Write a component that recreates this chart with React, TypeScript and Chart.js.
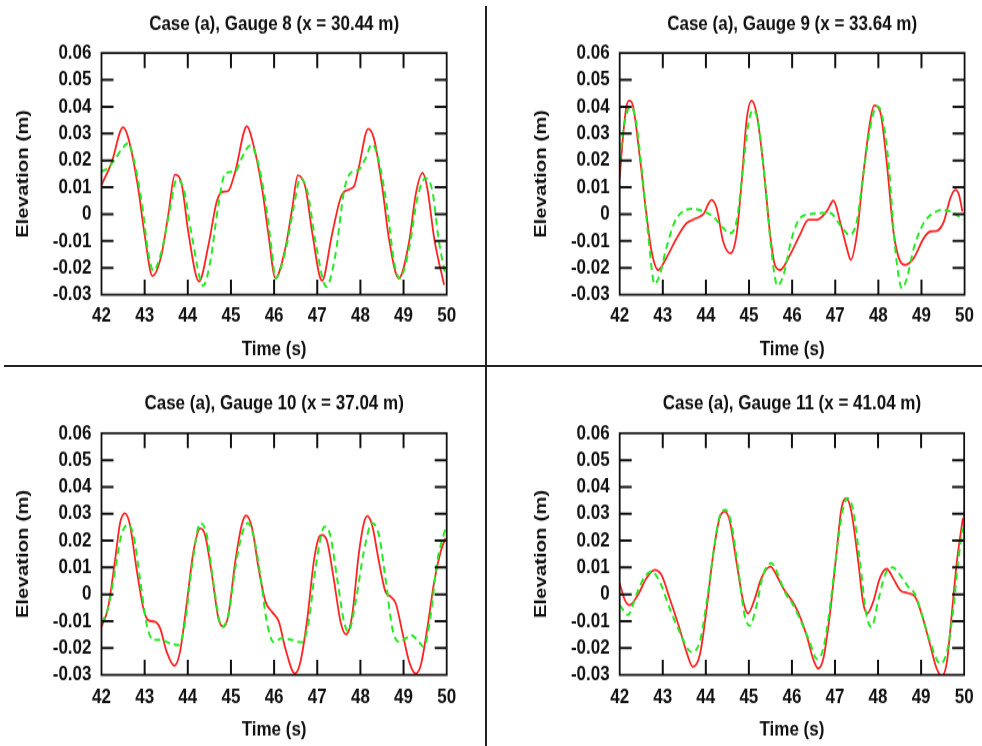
import React, { useEffect, useRef } from "react";
import { Chart, registerables } from "chart.js";
Chart.register(...registerables);

// ---- axes ----
const timeRange = [42, 50];
const elevationRange = [-0.03, 0.06];

// ---- Gauge 8 ----
const g8RedTime = [42, 42.23, 42.5, 42.62, 42.85, 43.0, 43.18, 43.39, 43.55, 43.7, 43.86, 44.01, 44.26, 44.48, 44.67, 44.79, 44.94, 45.1, 45.37, 45.52, 45.72, 45.87, 46.03, 46.26, 46.42, 46.55, 46.73, 46.88, 47.11, 47.34, 47.54, 47.65, 47.85, 47.96, 48.18, 48.31, 48.51, 48.66, 48.89, 49.13, 49.28, 49.44, 49.55, 49.71, 49.94];
const g8RedElev = [0.0109, 0.019, 0.0323, 0.0284, 0.0097, -0.0077, -0.023, -0.0152, 0, 0.0147, 0.011, -0.0065, -0.0251, -0.0114, 0.0047, 0.0082, 0.0087, 0.0159, 0.0327, 0.0259, 0.0097, -0.0077, -0.0239, -0.0127, 0.0022, 0.0144, 0.0097, -0.0065, -0.0248, -0.0077, 0.006, 0.0087, 0.0103, 0.0172, 0.0318, 0.0284, 0.0097, -0.009, -0.0239, -0.0102, 0.0072, 0.0153, 0.0097, -0.009, -0.0264];
const g8GreenTime = [42, 42.15, 42.31, 42.46, 42.62, 42.74, 42.93, 43.08, 43.2, 43.39, 43.59, 43.74, 43.9, 44.09, 44.36, 44.52, 44.71, 44.87, 45.1, 45.25, 45.45, 45.6, 45.8, 45.95, 46.03, 46.26, 46.45, 46.61, 46.77, 46.96, 47.21, 47.42, 47.62, 47.77, 47.96, 48.12, 48.27, 48.43, 48.62, 48.78, 48.91, 49.13, 49.32, 49.51, 49.67, 49.82, 49.97];
const g8GreenElev = [0.0159, 0.0172, 0.0203, 0.024, 0.0265, 0.0209, 0.0047, -0.0139, -0.0211, -0.0139, 0.0022, 0.0128, 0.0097, -0.0077, -0.0266, -0.0177, 0.0035, 0.0153, 0.0159, 0.0209, 0.0256, 0.0209, 0.0047, -0.0139, -0.0239, -0.0139, 0.0022, 0.0134, 0.0085, -0.0102, -0.027, -0.0152, 0.0085, 0.0153, 0.0165, 0.0209, 0.0261, 0.0197, 0.0022, -0.0177, -0.0239, -0.0127, 0.006, 0.0134, 0.0085, -0.0102, -0.0226];

// ---- Gauge 9 ----
const g9RedTime = [42, 42.08, 42.15, 42.22, 42.31, 42.46, 42.62, 42.74, 42.89, 43.08, 43.32, 43.55, 43.78, 43.94, 44.13, 44.25, 44.4, 44.57, 44.71, 44.83, 44.94, 45.06, 45.18, 45.33, 45.49, 45.6, 45.72, 45.95, 46.18, 46.38, 46.57, 46.8, 46.96, 47.11, 47.27, 47.36, 47.5, 47.65, 47.81, 47.9, 48.04, 48.2, 48.35, 48.51, 48.62, 48.82, 49.05, 49.2, 49.36, 49.52, 49.67, 49.79, 49.87, 49.95];
const g9RedElev = [0.0134, 0.0296, 0.0396, 0.0423, 0.0402, 0.0221, 0, -0.0139, -0.0208, -0.0164, -0.009, -0.0034, -0.0015, 0, 0.0053, 0.0022, -0.0102, -0.0146, -0.0077, 0.0122, 0.0346, 0.0423, 0.0371, 0.0184, -0.0077, -0.0189, -0.0208, -0.0152, -0.0077, -0.0021, -0.0021, 0.001, 0.005, -0.0027, -0.0127, -0.017, -0.0077, 0.0147, 0.0346, 0.0405, 0.0383, 0.0184, -0.0065, -0.0177, -0.0189, -0.0164, -0.009, -0.0065, -0.0062, -0.0027, 0.006, 0.0091, 0.0072, 0.001];
const g9GreenTime = [42, 42.08, 42.23, 42.35, 42.5, 42.66, 42.81, 42.93, 43.08, 43.28, 43.47, 43.7, 43.94, 44.17, 44.4, 44.56, 44.71, 44.87, 44.98, 45.1, 45.22, 45.37, 45.53, 45.66, 45.8, 45.99, 46.18, 46.42, 46.65, 46.88, 47.11, 47.33, 47.5, 47.65, 47.81, 47.96, 48.08, 48.24, 48.39, 48.55, 48.66, 48.82, 49.05, 49.28, 49.52, 49.75, 49.97];
const g9GreenElev = [0.0197, 0.0308, 0.0398, 0.0371, 0.0184, -0.0077, -0.026, -0.0226, -0.0127, -0.0027, 0.001, 0.002, 0.001, -0.0009, -0.0052, -0.0071, -0.0027, 0.0184, 0.0333, 0.0389, 0.0333, 0.0122, -0.0152, -0.0266, -0.0226, -0.009, -0.0015, 0, 0.0004, 0.0004, -0.004, -0.0077, -0.0027, 0.0147, 0.0321, 0.0402, 0.0371, 0.0184, -0.0127, -0.0276, -0.0239, -0.0127, -0.0034, 0.0004, 0.0016, 0.0004, -0.0021];

// ---- Gauge 10 ----
const g10RedTime = [42, 42.15, 42.31, 42.43, 42.54, 42.66, 42.81, 42.97, 43.08, 43.24, 43.36, 43.51, 43.69, 43.82, 43.98, 44.13, 44.29, 44.4, 44.56, 44.71, 44.83, 44.94, 45.1, 45.25, 45.35, 45.49, 45.64, 45.8, 45.95, 46.11, 46.26, 46.48, 46.61, 46.77, 46.92, 47.03, 47.11, 47.23, 47.38, 47.54, 47.67, 47.81, 47.96, 48.08, 48.16, 48.27, 48.43, 48.58, 48.7, 48.82, 48.97, 49.13, 49.28, 49.4, 49.55, 49.71, 49.86, 49.97];
const g10RedElev = [-0.0121, -0.0052, 0.0122, 0.0265, 0.0302, 0.0259, 0.0097, -0.0052, -0.0096, -0.0102, -0.0127, -0.0214, -0.0266, -0.0214, -0.0027, 0.0159, 0.0246, 0.0221, 0.0072, -0.009, -0.0121, -0.0077, 0.0122, 0.0259, 0.0294, 0.0246, 0.0097, -0.0027, -0.0065, -0.0102, -0.0201, -0.0295, -0.0251, -0.009, 0.0122, 0.0209, 0.0221, 0.0197, 0.006, -0.0102, -0.0149, -0.0077, 0.0147, 0.0265, 0.0292, 0.0259, 0.0122, 0.001, -0.0009, -0.0034, -0.0139, -0.0251, -0.0295, -0.0264, -0.0127, 0.0047, 0.0159, 0.0209];
const g10GreenTime = [42, 42.15, 42.31, 42.46, 42.62, 42.74, 42.89, 43.05, 43.2, 43.39, 43.59, 43.78, 43.94, 44.09, 44.29, 44.44, 44.59, 44.79, 44.94, 45.1, 45.25, 45.39, 45.52, 45.68, 45.83, 45.99, 46.18, 46.42, 46.65, 46.8, 46.96, 47.17, 47.3, 47.46, 47.62, 47.72, 47.89, 48.08, 48.27, 48.43, 48.58, 48.74, 48.89, 49.05, 49.17, 49.32, 49.47, 49.63, 49.78, 49.97];
const g10GreenElev = [-0.0108, -0.0052, 0.0085, 0.0221, 0.0259, 0.0221, 0.006, -0.0114, -0.017, -0.017, -0.0183, -0.0189, -0.0102, 0.0097, 0.0265, 0.0221, 0.0047, -0.0121, -0.0077, 0.0097, 0.0221, 0.0265, 0.0221, 0.0072, -0.0102, -0.0177, -0.0164, -0.017, -0.0179, -0.0102, 0.0097, 0.0252, 0.0221, 0.006, -0.0102, -0.0139, -0.0027, 0.0159, 0.0265, 0.0221, 0.006, -0.0127, -0.0177, -0.0164, -0.0152, -0.017, -0.0195, -0.0077, 0.0122, 0.0246];

// ---- Gauge 11 ----
const g11RedTime = [42, 42.12, 42.23, 42.43, 42.62, 42.81, 42.97, 43.16, 43.39, 43.55, 43.7, 43.86, 44.01, 44.17, 44.32, 44.44, 44.56, 44.71, 44.87, 44.98, 45.14, 45.29, 45.5, 45.64, 45.8, 45.99, 46.14, 46.34, 46.49, 46.61, 46.73, 46.88, 47.03, 47.15, 47.26, 47.38, 47.54, 47.65, 47.75, 47.89, 48.04, 48.2, 48.35, 48.51, 48.7, 48.86, 49.02, 49.21, 49.36, 49.48, 49.6, 49.71, 49.83, 49.97];
const g11RedElev = [0.0041, -0.0021, -0.004, 0, 0.006, 0.0091, 0.0072, -0.0015, -0.0127, -0.0214, -0.027, -0.0226, -0.0065, 0.0147, 0.0284, 0.0308, 0.0271, 0.0122, -0.0027, -0.0071, -0.0015, 0.006, 0.0103, 0.0072, 0.0022, -0.0021, -0.0065, -0.0152, -0.0239, -0.0276, -0.0239, -0.0077, 0.0147, 0.0321, 0.0358, 0.0308, 0.0122, -0.0027, -0.0071, -0.0027, 0.006, 0.0095, 0.006, 0.0016, 0.0004, -0.0009, -0.0077, -0.0189, -0.0276, -0.0305, -0.0251, -0.0077, 0.0122, 0.0284];
const g11GreenTime = [42, 42.19, 42.39, 42.58, 42.74, 42.93, 43.16, 43.39, 43.66, 43.86, 44.01, 44.17, 44.32, 44.46, 44.59, 44.75, 44.9, 45.02, 45.18, 45.33, 45.52, 45.68, 45.83, 46.03, 46.18, 46.38, 46.59, 46.73, 46.88, 47.03, 47.19, 47.29, 47.42, 47.58, 47.73, 47.85, 48.0, 48.16, 48.34, 48.51, 48.7, 48.86, 49.02, 49.21, 49.44, 49.6, 49.75, 49.86, 49.97];
const g11GreenElev = [-0.004, -0.0077, 0, 0.0066, 0.0085, 0.0047, -0.0052, -0.0139, -0.0214, -0.0177, -0.004, 0.0147, 0.029, 0.0315, 0.0265, 0.0097, -0.0077, -0.0117, -0.004, 0.0072, 0.0116, 0.0072, 0.001, -0.004, -0.009, -0.0164, -0.0241, -0.0201, -0.0052, 0.0147, 0.0321, 0.0358, 0.0315, 0.0122, -0.0077, -0.0121, -0.0027, 0.0072, 0.01, 0.0072, 0.0029, 0, -0.0077, -0.0177, -0.0257, -0.0214, -0.0052, 0.0122, 0.0246];

const titles = [
  "Case (a), Gauge 8 (x = 30.44 m)",
  "Case (a), Gauge 9 (x = 33.64 m)",
  "Case (a), Gauge 10 (x = 37.04 m)",
  "Case (a), Gauge 11 (x = 41.04 m)",
];
const xAxisTitle = "Time (s)";
const yAxisTitle = "Elevation (m)";

const FONT = "'Liberation Sans', Arial, Helvetica, sans-serif";
const INK = "#111111";
// the figure is drawn at its natural size and stretched vertically, as in the reference image
const STRETCH = 1.2;
const FS = 17;
const LH = FS * 1.2;

// layout in final (on-screen) pixels
type Box = {
  left: number; top: number; width: number; height: number;
  plotLeft: number; plotRight: number; plotTop: number; plotBottom: number;
  titleY: number; xLabelY: number; xTitleY: number; yTitleX: number;
};
const boxes: Box[] = [
  { left: 0, top: 0, width: 487, height: 366, plotLeft: 101.5, plotRight: 446.7, plotTop: 53, plotBottom: 294.7, titleY: 24, xLabelY: 316.5, xTitleY: 350, yTitleX: 23.3 },
  { left: 487, top: 0, width: 495, height: 366, plotLeft: 132.7, plotRight: 477.7, plotTop: 53, plotBottom: 294.7, titleY: 24, xLabelY: 316.5, xTitleY: 350, yTitleX: 54.7 },
  { left: 0, top: 366, width: 487, height: 380, plotLeft: 101.5, plotRight: 446.7, plotTop: 67, plotBottom: 308.7, titleY: 37.3, xLabelY: 331, xTitleY: 364, yTitleX: 23.3 },
  { left: 487, top: 366, width: 495, height: 380, plotLeft: 132.7, plotRight: 477.7, plotTop: 67, plotBottom: 308.7, titleY: 37.3, xLabelY: 331, xTitleY: 364, yTitleX: 54.7 },
];

const seriesSets = [
  [g8RedTime, g8RedElev, g8GreenTime, g8GreenElev],
  [g9RedTime, g9RedElev, g9GreenTime, g9GreenElev],
  [g10RedTime, g10RedElev, g10GreenTime, g10GreenElev],
  [g11RedTime, g11RedElev, g11GreenTime, g11GreenElev],
];

const toPoints = (t: number[], v: number[]) => t.map((x, i) => ({ x, y: v[i] }));

const framePlugin = {
  id: "gnuFrame",
  afterDatasetsDraw(chart: any) {
    const { ctx, chartArea: a, scales } = chart;
    ctx.save();
    ctx.strokeStyle = INK;
    ctx.lineWidth = 2;
    ctx.beginPath();
    scales.x.ticks.forEach((t: any) => {
      if (t.value <= timeRange[0] || t.value >= timeRange[1]) return;
      const px = scales.x.getPixelForValue(t.value);
      ctx.moveTo(px, a.bottom); ctx.lineTo(px, a.bottom - 12.5);
      ctx.moveTo(px, a.top); ctx.lineTo(px, a.top + 12.5);
    });
    scales.y.ticks.forEach((t: any) => {
      if (t.value <= elevationRange[0] + 1e-9 || t.value >= elevationRange[1] - 1e-9) return;
      const py = scales.y.getPixelForValue(t.value);
      ctx.moveTo(a.left, py); ctx.lineTo(a.left + 12, py);
      ctx.moveTo(a.right, py); ctx.lineTo(a.right - 12, py);
    });
    ctx.stroke();
    ctx.lineWidth = 1.8;
    ctx.strokeRect(a.left, a.top, a.right - a.left, a.bottom - a.top);
    ctx.restore();
  },
};

function Panel({ index }: { index: number }) {
  const ref = useRef<HTMLCanvasElement | null>(null);
  const B = boxes[index];
  const H = B.height / STRETCH;
  const plotTop = B.plotTop / STRETCH;
  const plotBottom = B.plotBottom / STRETCH;
  useEffect(() => {
    const [rt, rv, gt, gv] = seriesSets[index];
    const titleTop = B.titleY / STRETCH - LH / 2;
    const titleBottom = plotTop - titleTop - LH;
    const xAxisHeight = H - plotBottom;
    const xTickPad = B.xLabelY / STRETCH - plotBottom - LH / 2;
    const xTitlePad = H - B.xTitleY / STRETCH - LH / 2;
    const chart = new Chart(ref.current as HTMLCanvasElement, {
      type: "line",
      data: {
        datasets: [
          {
            data: toPoints(gt, gv),
            borderColor: "rgb(35,235,35)",
            borderWidth: 2,
            borderDash: [6, 4],
            pointRadius: 0,
            cubicInterpolationMode: "monotone",
            fill: false,
          },
          {
            data: toPoints(rt, rv),
            borderColor: "rgb(255,35,35)",
            borderWidth: 1.8,
            pointRadius: 0,
            cubicInterpolationMode: "monotone",
            fill: false,
          },
        ],
      },
      options: {
        animation: false,
        responsive: false,
        devicePixelRatio: 1,
        layout: { padding: { left: 0, top: 0, right: B.width - B.plotRight, bottom: 0 } },
        plugins: {
          legend: { display: false },
          tooltip: { enabled: false },
          title: {
            display: true,
            text: titles[index],
            fullSize: false,
            color: INK,
            font: { family: FONT, size: FS, weight: "bold", lineHeight: 1.2 },
            padding: { top: titleTop, bottom: titleBottom },
          },
        },
        scales: {
          x: {
            type: "linear",
            min: timeRange[0],
            max: timeRange[1],
            grid: { display: false, drawTicks: false },
            border: { display: false },
            ticks: {
              stepSize: 1,
              autoSkip: false,
              padding: xTickPad,
              color: INK,
              font: { family: FONT, size: FS, weight: "bold", lineHeight: 1.2 },
              maxRotation: 0,
            },
            title: {
              display: true,
              text: xAxisTitle,
              color: INK,
              font: { family: FONT, size: FS, weight: "bold", lineHeight: 1.2 },
              padding: { top: 0, bottom: xTitlePad },
            },
            afterFit: (s: any) => { s.height = xAxisHeight; },
          },
          y: {
            type: "linear",
            min: elevationRange[0],
            max: elevationRange[1],
            grid: { display: false, drawTicks: false },
            border: { display: false },
            ticks: {
              stepSize: 0.01,
              autoSkip: false,
              padding: 10,
              color: INK,
              font: { family: FONT, size: FS, weight: "bold", lineHeight: 1.2 },
              callback: (v: any) => String(Math.round(Number(v) * 100) / 100),
            },
            title: {
              display: true,
              text: yAxisTitle,
              color: INK,
              font: { family: FONT, size: FS, weight: "bold", lineHeight: 1.2 },
              padding: { top: B.yTitleX - LH / 2, bottom: 0 },
            },
            afterFit: (s: any) => { s.width = B.plotLeft; },
          },
        },
      },
      plugins: [framePlugin],
    } as any);
    return () => chart.destroy();
  }, [index]);
  return (
    <canvas
      ref={ref}
      width={B.width}
      height={H}
      style={{
        position: "absolute",
        left: B.left,
        top: B.top,
        width: B.width,
        height: H,
        transform: `scaleY(${STRETCH})`,
        transformOrigin: "0 0",
      }}
    />
  );
}

export default function App() {
  return (
    <div style={{ position: "absolute", left: 0, top: 0, width: 982, height: 746, background: "#fff", overflow: "hidden" }}>
      {boxes.map((_, i) => <Panel key={i} index={i} />)}
      <div style={{ position: "absolute", left: 485, top: 6, width: 2, height: 740, background: "#222" }} />
      <div style={{ position: "absolute", left: 4, top: 365, width: 978, height: 2, background: "#222" }} />
    </div>
  );
}
